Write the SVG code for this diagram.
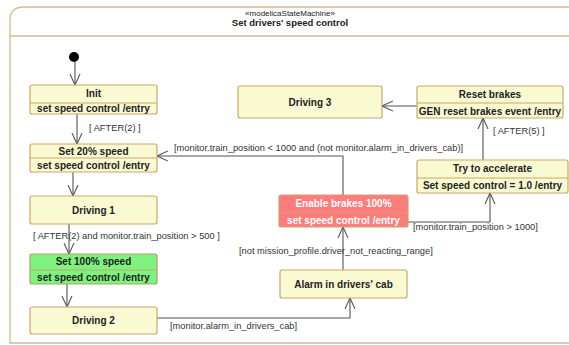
<svg xmlns="http://www.w3.org/2000/svg" width="569" height="345" viewBox="0 0 569 345">
<defs>
<style>
.frame{fill:#ffffff;stroke:#d4bc8c;stroke-width:1.3}
.st{fill:#fafad2;stroke:#c8a868;stroke-width:1.2}
.gr{fill:#7ef27e;stroke:#b0a060;stroke-width:1.2}
.rd{fill:#ff7c7c;stroke:#d0a070;stroke-width:1.2}
.div{stroke:#c8a868;stroke-width:1}
.t{font-family:"Liberation Sans",Arial,sans-serif;font-size:10px;font-weight:bold;fill:#222;text-anchor:middle}
.tw{font-family:"Liberation Sans",Arial,sans-serif;font-size:10px;font-weight:bold;fill:#ffffff;text-anchor:middle}
.lbl{font-family:"Liberation Sans",Arial,sans-serif;font-size:9.3px;fill:#333}
.hd{font-family:"Liberation Sans",Arial,sans-serif;fill:#222;text-anchor:middle}
.cn{fill:none;stroke:#555;stroke-width:1.1}
</style>
<marker id="ah" viewBox="0 0 12 12" refX="11" refY="6" markerWidth="12" markerHeight="12" markerUnits="userSpaceOnUse" orient="auto">
<path d="M0,1 L11,6 L0,11" fill="none" stroke="#555" stroke-width="1.1"/>
</marker>
</defs>
<g id="frame">
<path class="frame" d="M10,343 L10,20 Q10,7 24,7 L575,7 L575,343 Z"/>
<line x1="10" y1="36" x2="575" y2="36" stroke="#d4bc8c" stroke-width="1.3"/>
<text class="hd" x="290" y="16" font-size="8">«modelicaStateMachine»</text>
<text class="hd" x="290" y="26" font-size="9.5" font-weight="bold">Set drivers' speed control</text>
</g>
<g id="connectors">
<path class="cn" d="M75,62 L75,85" marker-end="url(#ah)"/>
<path class="cn" d="M77,114 L77,144" marker-end="url(#ah)"/>
<path class="cn" d="M73,172 L73,196" marker-end="url(#ah)"/>
<path class="cn" d="M69,224 L69,254" marker-end="url(#ah)"/>
<path class="cn" d="M67,284 L67,307" marker-end="url(#ah)"/>
<path class="cn" d="M157,318 L350,318 L350,298" marker-end="url(#ah)"/>
<path class="cn" d="M343,270 L343,227" marker-end="url(#ah)"/>
<path class="cn" d="M343,195 L343,156 L157,156" marker-end="url(#ah)"/>
<path class="cn" d="M408,222 L490,222 L490,193" marker-end="url(#ah)"/>
<path class="cn" d="M483,160 L483,118" marker-end="url(#ah)"/>
<path class="cn" d="M417,106 L382,106" marker-end="url(#ah)"/>
<text class="lbl" x="89" y="131">[ AFTER(2) ]</text>
<text class="lbl" x="33" y="239">[ AFTER(2)  and  monitor.train_position &gt; 500 ]</text>
<text class="lbl" x="170" y="329">[monitor.alarm_in_drivers_cab]</text>
<text class="lbl" x="239" y="254">[not mission_profile.driver_not_reacting_range]</text>
<text class="lbl" x="174" y="151">[monitor.train_position &lt; 1000 and (not monitor.alarm_in_drivers_cab)]</text>
<text class="lbl" x="413" y="230">[monitor.train_position &gt; 1000]</text>
<text class="lbl" x="493" y="134">[ AFTER(5) ]</text>
</g>
<g id="initial"><circle cx="74" cy="57" r="5" fill="#000"/></g>
<g id="init">
<rect class="st" x="30" y="85" width="127" height="29" rx="2"/>
<line class="div" x1="30" y1="103" x2="157" y2="103"/>
<text class="t" x="93.5" y="97">Init</text>
<text class="t" x="93.5" y="112">set speed control /entry</text>
</g>
<g id="set20">
<rect class="st" x="30" y="144" width="127" height="28" rx="2"/>
<line class="div" x1="30" y1="158" x2="157" y2="158"/>
<text class="t" x="93.5" y="155">Set 20% speed</text>
<text class="t" x="93.5" y="169">set speed control /entry</text>
</g>
<g id="driving1">
<rect class="st" x="30" y="196" width="127" height="28" rx="2"/>
<text class="t" x="93.5" y="214">Driving 1</text>
</g>
<g id="set100">
<rect class="gr" x="30" y="254" width="127" height="30" rx="2"/>
<line class="div" x1="30" y1="270" x2="157" y2="270" stroke="#b0a060"/>
<text class="t" x="93.5" y="265">Set 100% speed</text>
<text class="t" x="93.5" y="281">set speed control /entry</text>
</g>
<g id="driving2">
<rect class="st" x="30" y="307" width="127" height="27" rx="2"/>
<text class="t" x="93.5" y="324">Driving 2</text>
</g>
<g id="alarm">
<rect class="st" x="280" y="270" width="127" height="28" rx="2"/>
<text class="t" x="343.5" y="288">Alarm in drivers' cab</text>
</g>
<g id="enable">
<rect class="rd" x="279" y="195" width="129" height="32" rx="2"/>
<line x1="279" y1="213" x2="408" y2="213" stroke="#d0a070" stroke-width="1"/>
<text class="tw" x="343.5" y="207">Enable brakes 100%</text>
<text class="tw" x="343.5" y="224">set speed control /entry</text>
</g>
<g id="try">
<rect class="st" x="417" y="160" width="151" height="33" rx="2"/>
<line class="div" x1="417" y1="178" x2="568" y2="178"/>
<text class="t" x="492.5" y="172">Try to accelerate</text>
<text class="t" x="492.5" y="189">Set speed control = 1.0 /entry</text>
</g>
<g id="reset">
<rect class="st" x="417" y="86" width="146" height="32" rx="2"/>
<line class="div" x1="417" y1="103" x2="563" y2="103"/>
<text class="t" x="490" y="98">Reset brakes</text>
<text class="t" x="490" y="115">GEN reset brakes event /entry</text>
</g>
<g id="driving3">
<rect class="st" x="238" y="86" width="144" height="32" rx="2"/>
<text class="t" x="310" y="106">Driving 3</text>
</g>
</svg>
